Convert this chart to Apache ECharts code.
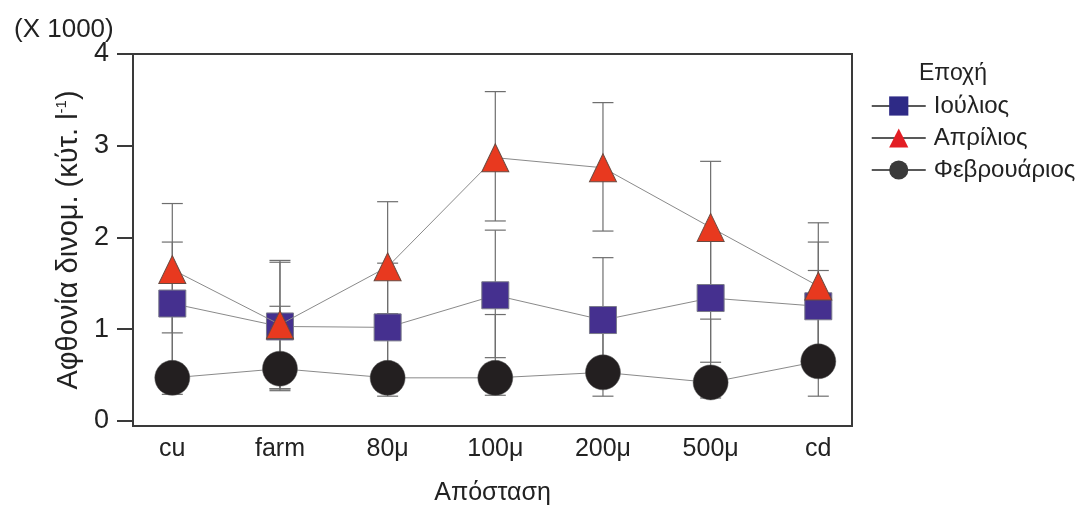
<!DOCTYPE html>
<html>
<head>
<meta charset="utf-8">
<script src="https://cdn.jsdelivr.net/npm/echarts@6/dist/echarts.min.js"></script>
<style>
  html, body { margin: 0; padding: 0; background: #fff; }
  #chart { width: 1079px; height: 511px; }
</style>
</head>
<body>
<div id="chart"></div>
<script>
// Sampling sites along the distance gradient
const categories = ['cu', 'farm', '80μ', '100μ', '200μ', '500μ', 'cd'];
const yTicks = [0, 1, 2, 3, 4];

// Dinoflagellate abundance (x1000 cells per litre), mean and error bar ends
const julyMean  = [1.28, 1.03, 1.02, 1.37, 1.10, 1.34, 1.25];
const julyHigh  = [1.95, 1.73, 1.72, 2.08, 1.78, 2.02, 1.95];
const julyLow   = [0.61, 0.33, 0.32, 0.69, 0.43, 0.64, 0.55];

const aprilMean = [1.65, 1.05, 1.68, 2.87, 2.76, 2.11, 1.47];
const aprilHigh = [2.37, 1.75, 2.39, 3.59, 3.47, 2.83, 2.16];
const aprilLow  = [0.96, 0.35, 0.97, 2.18, 2.07, 1.42, 0.77];

const febMean   = [0.47, 0.57, 0.47, 0.47, 0.53, 0.42, 0.65];
const febHigh   = [1.15, 1.25, 1.17, 1.16, 1.20, 1.11, 1.64];
const febLow    = [0.29, 0.35, 0.27, 0.28, 0.27, 0.25, 0.27];

const seriesNames = ['Ιούλιος', 'Απρίλιος', 'Φεβρουάριος'];

const FONT = 'Liberation Sans, Arial, sans-serif';

function points(mean) {
  return mean.map((v, i) => [i, v]);
}
function bars(low, high) {
  return low.map((lo, i) => [i, lo, high[i]]);
}

// Vertical error bar with horizontal caps at both ends
function renderErrorBar(params, api) {
  const x = api.value(0);
  const lo = api.coord([x, api.value(1)]);
  const hi = api.coord([x, api.value(2)]);
  const half = 10.5;
  const style = { stroke: '#6e6e6e', lineWidth: 1.2 };
  return {
    type: 'group',
    children: [
      { type: 'line', shape: { x1: hi[0], y1: hi[1], x2: lo[0], y2: lo[1] }, style },
      { type: 'line', shape: { x1: hi[0] - half, y1: hi[1], x2: hi[0] + half, y2: hi[1] }, style },
      { type: 'line', shape: { x1: lo[0] - half, y1: lo[1], x2: lo[0] + half, y2: lo[1] }, style }
    ]
  };
}

function errorSeries(low, high) {
  return {
    type: 'custom',
    renderItem: renderErrorBar,
    data: bars(low, high),
    encode: { x: 0, y: [1, 2] },
    z: 1,
    silent: true
  };
}

const chart = echarts.init(document.getElementById('chart'), null, { renderer: 'canvas' });

chart.setOption({
  animation: false,
  backgroundColor: '#fff',
  title: [
    {
      text: '(X 1000)', left: 9, top: 12,
      textStyle: { fontFamily: FONT, fontSize: 26, fontWeight: 'normal', color: '#222' }
    },
    {
      text: 'Εποχή', left: 914, top: 57,
      textStyle: { fontFamily: FONT, fontSize: 23, fontWeight: 'normal', color: '#222' }
    }
  ],
  legend: {
    orient: 'vertical',
    left: 866, top: 89,
    itemWidth: 54, itemHeight: 24, itemGap: 8,
    textStyle: { fontFamily: FONT, fontSize: 24, color: '#222', padding: [0, 0, 0, 3] },
    lineStyle: { color: '#222', width: 1.5 },
    data: [
      { name: seriesNames[0], itemStyle: { color: '#2e2a86', borderWidth: 0 } },
      { name: seriesNames[1], itemStyle: { color: '#e31e24', borderWidth: 0 } },
      { name: seriesNames[2], itemStyle: { color: '#3a3a3a', borderWidth: 0 } }
    ]
  },
  grid: {
    left: 133, right: 227, top: 54, bottom: 85,
    show: true, borderColor: '#3a3a3a', borderWidth: 2, backgroundColor: 'transparent'
  },
  xAxis: {
    type: 'value',
    min: -0.365, max: 6.313,
    name: 'Απόσταση',
    nameLocation: 'middle',
    nameGap: 55,
    nameTextStyle: { fontFamily: FONT, fontSize: 25, color: '#222' },
    axisLine: { show: false, onZero: false },
    axisTick: { show: false },
    splitLine: { show: false },
    axisLabel: {
      customValues: [0, 1, 2, 3, 4, 5, 6],
      formatter: v => categories[Math.round(v)],
      margin: 11,
      fontFamily: FONT, fontSize: 25, color: '#222'
    }
  },
  yAxis: {
    type: 'value',
    min: -0.055, max: 4,
    name: 'Αφθονία δινομ. (κύτ. l{sup|-1})',
    nameLocation: 'middle',
    nameGap: 41,
    nameRotate: 90,
    nameTextStyle: {
      fontFamily: FONT, fontSize: 29, color: '#222',
      rich: { sup: { fontFamily: FONT, fontSize: 15, color: '#222', verticalAlign: 'top', padding: [0, 0, 12, 0] } }
    },
    axisLine: { show: false, onZero: false },
    axisTick: {
      show: true, inside: false, length: 16,
      customValues: yTicks,
      lineStyle: { color: '#3a3a3a', width: 2 }
    },
    splitLine: { show: false },
    axisLabel: {
      customValues: yTicks,
      margin: 24,
      fontFamily: FONT, fontSize: 27, color: '#222'
    }
  },
  series: [
    errorSeries(julyLow, julyHigh),
    errorSeries(aprilLow, aprilHigh),
    errorSeries(febLow, febHigh),
    {
      name: seriesNames[0],
      type: 'line',
      data: points(julyMean),
      symbol: 'rect', symbolSize: 27,
      lineStyle: { color: '#8a8a8a', width: 1 },
      itemStyle: { color: '#45308f', borderColor: '#7a7a8a', borderWidth: 1 },
      z: 3
    },
    {
      name: seriesNames[1],
      type: 'line',
      data: points(aprilMean),
      symbol: 'triangle', symbolSize: [27, 28],
      lineStyle: { color: '#8a8a8a', width: 1 },
      itemStyle: { color: '#e8391f', borderColor: '#6b4a40', borderWidth: 1 },
      z: 4
    },
    {
      name: seriesNames[2],
      type: 'line',
      data: points(febMean),
      symbol: 'circle', symbolSize: 35,
      lineStyle: { color: '#8a8a8a', width: 1 },
      itemStyle: { color: '#231f20', borderColor: '#555', borderWidth: 0.5 },
      z: 5
    }
  ]
});
</script>
</body>
</html>
